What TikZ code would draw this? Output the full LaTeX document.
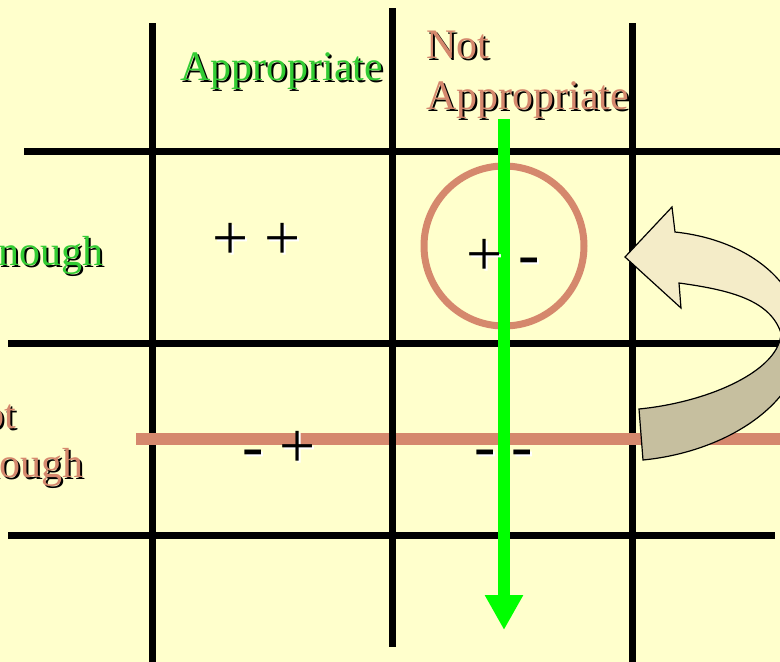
\documentclass[tikz,border=0pt]{standalone}
\usepackage{fontspec}
\setmainfont{Liberation Serif}
\usetikzlibrary{arrows.meta,positioning}

\definecolor{bgyellow}{HTML}{FFFFCC}
\definecolor{labelgreen}{HTML}{33CC33}
\definecolor{salmon}{HTML}{D5886D}
\definecolor{arrowgreen}{HTML}{00FF00}
\definecolor{turnlight}{HTML}{F4ECC8}
\definecolor{turndark}{HTML}{C6BF9F}

% text with a small offset shadow behind it
\newcommand{\shadowtext}[2]{\leavevmode\rlap{\kern2pt\raisebox{-2pt}{\textcolor{#1}{#2}}}#2}

\begin{document}
\begin{tikzpicture}[x=1pt, y=-1pt,
    headtext/.style={inner sep=0pt, font=\fontsize{42}{50}\selectfont},
    signtext/.style={inner sep=0pt, text=black, font=\fontsize{64}{70}\selectfont},
    gridline/.style={line width=7pt, black},
    cutline/.style={line width=12pt, salmon},
    testarrow/.style={line width=12pt, arrowgreen, -{Triangle[width=36pt,length=35pt]}},
    turnarrow/.style={draw=black, line width=1.2pt, fill=turnlight,
        path picture={\fill[turndark] (path picture bounding box.south west)
            rectangle (path picture bounding box.east |- split);}}]
    \useasboundingbox (0,0) rectangle (780,662);
    \clip (0,0) rectangle (780,662);
    \fill[bgyellow] (0,0) rectangle (780,662);

    % grid
    \draw[gridline] (152,23) -- (152,662);
    \draw[gridline] (632,23) -- (632,662);
    \draw[gridline] (24,151) -- (780,151);
    \draw[gridline] (8,343) -- (780,343);
    \draw[gridline] (8,535) -- (775,535);
    \draw[cutline] (136,439) -- (780,439);
    \draw[gridline] (392,8) -- (392,647);

    \node[draw=salmon, line width=7pt, circle, minimum size=160pt] (focus) at (504,246) {};

    \coordinate (gtop) at (504,119);
    \coordinate (gend) at (504,630);
    \draw[testarrow] (gtop) -- (gend);

    % headings
    \node[headtext, text=labelgreen, anchor=base west] (appr) at (180,80) {\shadowtext{black}{Appropriate}};
    \node[headtext, text=salmon, anchor=base west] (notappr) at (426,58) {\shadowtext{black}{Not}};
    \node[headtext, text=salmon, anchor=base west] (notappr2) at ([yshift=-51pt]notappr.base west) {\shadowtext{black}{Appropriate}};
    \node[headtext, text=labelgreen, anchor=base east] (enough) at (104,265) {\shadowtext{black}{Enough}};
    \node[headtext, text=salmon, anchor=base west] (notenough) at (-47,428) {\shadowtext{black}{Not}};
    \node[headtext, text=salmon, anchor=base west] (notenough2) at ([yshift=-49pt]notenough.base west) {\shadowtext{black}{Enough}};

    % cells
    \node[signtext, anchor=base west] (pp) at (212,259) {\shadowtext{white}{+ +}};
    \node[signtext, anchor=base west] (pm) at (466,275) {\shadowtext{white}{+ -}};
    \node[signtext, anchor=base west] (mp) at (242,467) {\shadowtext{white}{- +}};
    \node[signtext, anchor=base west] (mm) at (474,467) {\shadowtext{white}{- -}};

    \coordinate (split) at (0,338);
    \draw[turnarrow] (625,257) -- (672,207) -- (675,232)
        .. controls (750,240) and (805,285) .. (802,345)
        .. controls (798,405) and (725,452) .. (643,460)
        -- (639,409)
        .. controls (710,402) and (780,370) .. (781,333)
        .. controls (770,300) and (730,290) .. (679,283)
        -- (681,308) -- cycle;
\end{tikzpicture}
\end{document}
